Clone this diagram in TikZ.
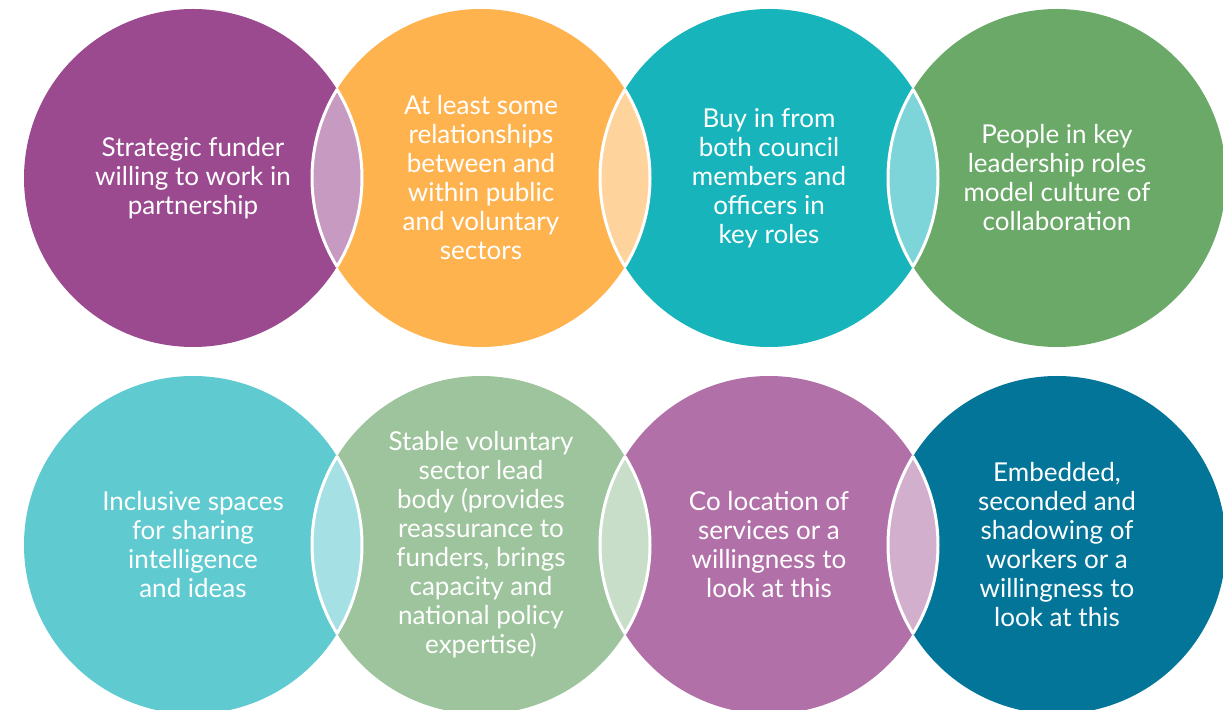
\documentclass[tikz,border=0pt]{standalone}
\usepackage{fontspec}
\setmainfont{Lato}
\definecolor{plum}{HTML}{9B4A90}
\definecolor{apricot}{HTML}{FFB34F}
\definecolor{teal}{HTML}{18B4BB}
\definecolor{leaf}{HTML}{6BA968}
\definecolor{aqua}{HTML}{5FCACF}
\definecolor{sage}{HTML}{9DC49C}
\definecolor{mauve}{HTML}{B171A8}
\definecolor{petrol}{HTML}{037599}
\tikzset{
  bubble/.style={circle,minimum size=169pt,inner sep=0pt,text=white,align=center,
    font=\fontsize{13}{14.5}\selectfont}
}
\begin{document}
\begin{tikzpicture}[x=0.5pt,y=-0.5pt]
  \useasboundingbox (0,0) rectangle (1223,710);
  % top row
  \node[bubble,fill=plum] (funder) at (193,178) {Strategic funder\\willing to work in\\partnership};
  \node[bubble,fill=apricot] (relations) at (481,178) {At least some\\relationships\\between and\\within public\\and voluntary\\sectors};
  \node[bubble,fill=teal] (buyin) at (769,178) {Buy in from\\both council\\members and\\officers in\\key roles};
  \node[bubble,fill=leaf] (leaders) at (1057,178) {People in key\\leadership roles\\model culture of\\collaboration};
  % bottom row
  \node[bubble,fill=aqua] (spaces) at (193,545) {Inclusive spaces\\for sharing\\intelligence\\and ideas};
  \node[bubble,fill=sage] (leadbody) at (481,545) {Stable voluntary\\sector lead\\body (provides\\reassurance to\\funders, brings\\capacity and\\national policy\\expertise)};
  \node[bubble,fill=mauve] (colocation) at (769,545) {Co location of\\services or a\\willingness to\\look at this};
  \node[bubble,fill=petrol] (embedded) at (1057,545) {Embedded,\\seconded and\\shadowing of\\workers or a\\willingness to\\look at this};
  % overlaps
  \foreach \a/\b/\c in {funder/relations/plum,relations/buyin/apricot,buyin/leaders/teal,
      spaces/leadbody/aqua,leadbody/colocation/sage,colocation/embedded/mauve}{
    \begin{scope}
      \clip (\a.center) circle (84.5pt);
      \fill[\c!56!white] (\b.center) circle (84.5pt);
      \draw[white,line width=1.5pt] (\b.center) circle (84.5pt);
    \end{scope}
    \begin{scope}
      \clip (\b.center) circle (84.5pt);
      \draw[white,line width=1.5pt] (\a.center) circle (84.5pt);
    \end{scope}
  }
\end{tikzpicture}
\end{document}
